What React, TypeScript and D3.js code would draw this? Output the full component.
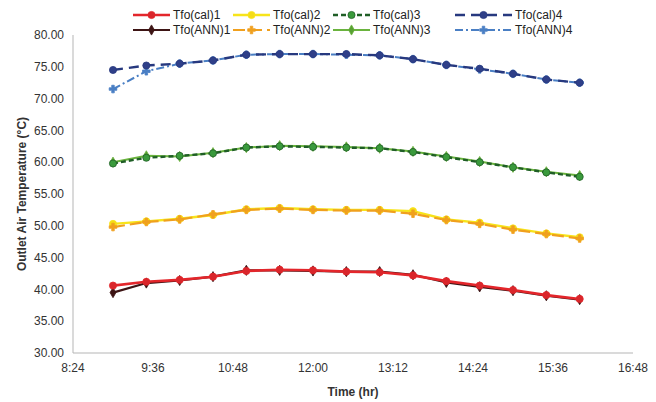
import React from "react";
import * as d3 from "d3";

// times of the readings (every 30 min)
const times = ["9:00", "9:30", "10:00", "10:30", "11:00", "11:30", "12:00", "12:30", "13:00", "13:30", "14:00", "14:30", "15:00", "15:30", "16:00"];

const cal1 = [40.6, 41.2, 41.5, 42.0, 42.9, 43.1, 43.0, 42.8, 42.7, 42.2, 41.3, 40.6, 39.9, 39.1, 38.5];
const ann1 = [39.5, 41.0, 41.4, 42.0, 43.0, 43.0, 42.9, 42.8, 42.8, 42.3, 41.1, 40.4, 39.8, 39.0, 38.4];
const cal2 = [50.3, 50.7, 51.1, 51.7, 52.6, 52.8, 52.6, 52.5, 52.5, 52.3, 51.0, 50.5, 49.6, 48.8, 48.2];
const ann2 = [49.8, 50.6, 51.0, 51.8, 52.5, 52.7, 52.5, 52.4, 52.4, 51.9, 50.9, 50.3, 49.4, 48.7, 48.0];
const cal3 = [59.8, 60.7, 61.0, 61.4, 62.3, 62.5, 62.4, 62.3, 62.2, 61.6, 60.8, 60.0, 59.2, 58.4, 57.7];
const ann3 = [60.0, 61.0, 60.9, 61.5, 62.3, 62.6, 62.5, 62.4, 62.2, 61.7, 60.9, 60.1, 59.2, 58.5, 57.9];
const cal4 = [74.5, 75.2, 75.5, 76.0, 76.9, 77.0, 77.0, 77.0, 76.8, 76.2, 75.3, 74.7, 73.9, 73.0, 72.5];
const ann4 = [71.5, 74.3, 75.5, 76.0, 76.9, 77.0, 77.0, 76.9, 76.8, 76.2, 75.3, 74.6, 73.9, 73.0, 72.5];

const xTickLabels = ["8:24", "9:36", "10:48", "12:00", "13:12", "14:24", "15:36", "16:48"];
const yTicks = [30, 35, 40, 45, 50, 55, 60, 65, 70, 75, 80];

type Series = {
  name: string;
  values: number[];
  line: string;
  marker: string;
  dash: string;
  width: number;
  symbol: d3.SymbolType;
  size: number;
};

const series: Series[] = [
  { name: "Tfo(cal)1", values: cal1, line: "#e3262b", marker: "#d9262b", dash: "", width: 2.6, symbol: d3.symbolCircle, size: 40 },
  { name: "Tfo(cal)2", values: cal2, line: "#f7e41a", marker: "#f5dc17", dash: "", width: 2.4, symbol: d3.symbolCircle, size: 40 },
  { name: "Tfo(cal)3", values: cal3, line: "#1f5e26", marker: "#3a9a3c", dash: "5,3", width: 2.4, symbol: d3.symbolCircle, size: 40 },
  { name: "Tfo(cal)4", values: cal4, line: "#27397f", marker: "#2f3f88", dash: "10,6", width: 2.4, symbol: d3.symbolCircle, size: 40 },
  { name: "Tfo(ANN)1", values: ann1, line: "#3d1414", marker: "#3d1414", dash: "", width: 2.2, symbol: d3.symbolDiamond, size: 30 },
  { name: "Tfo(ANN)2", values: ann2, line: "#f0a01e", marker: "#f0a01e", dash: "12,5", width: 2.2, symbol: d3.symbolCross, size: 32 },
  { name: "Tfo(ANN)3", values: ann3, line: "#6ab33e", marker: "#58a033", dash: "", width: 2.0, symbol: d3.symbolDiamond, size: 30 },
  { name: "Tfo(ANN)4", values: ann4, line: "#4a7fc4", marker: "#4a7fc4", dash: "8,3,2,3", width: 2.0, symbol: d3.symbolCross, size: 32 },
];

// drawing order (back to front)
const drawOrder = ["Tfo(ANN)1", "Tfo(cal)1", "Tfo(cal)2", "Tfo(ANN)2", "Tfo(ANN)3", "Tfo(cal)3", "Tfo(ANN)4", "Tfo(cal)4"];

const toMin = (t: string) => {
  const [h, m] = t.split(":").map(Number);
  return h * 60 + m;
};

const width = 656;
const height = 402;
const margin = { left: 73, right: 23, top: 35, bottom: 49 };
const font = "'Liberation Sans', Arial, sans-serif";

export default function App() {
  const x = d3
    .scaleLinear()
    .domain([toMin(xTickLabels[0]), toMin(xTickLabels[xTickLabels.length - 1])])
    .range([margin.left, width - margin.right]);
  const y = d3.scaleLinear().domain([30, 80]).range([height - margin.bottom, margin.top]);

  const line = d3
    .line<number>()
    .x((_, i) => x(toMin(times[i])))
    .y((d) => y(d));

  const ordered = drawOrder.map((n) => series.find((s) => s.name === n)!);

  // legend layout: 4 columns x 2 rows
  const legendCols = [133, 233, 333, 455];
  const legendLineLen = [37, 37, 37, 57];
  const legendRows = [15, 30];

  return (
    <svg width={width} height={height} style={{ position: "absolute", left: 0, top: 0, background: "#fff" }}>
      {/* axes */}
      <line x1={margin.left} x2={margin.left} y1={margin.top} y2={y(30)} stroke="#b5b5b5" strokeWidth={1} />
      <line x1={margin.left} x2={width - margin.right} y1={y(30)} y2={y(30)} stroke="#b5b5b5" strokeWidth={1} />

      {yTicks.map((t) => (
        <text key={t} x={64} y={y(t)} dy="0.35em" textAnchor="end" fontFamily={font} fontSize={12} fill="#333">
          {t.toFixed(2)}
        </text>
      ))}
      {xTickLabels.map((t) => (
        <text key={t} x={x(toMin(t))} y={372} textAnchor="middle" fontFamily={font} fontSize={12} fill="#333">
          {t}
        </text>
      ))}

      <text
        transform={`translate(22,${(margin.top + y(30)) / 2}) rotate(-90)`}
        textAnchor="middle"
        dy="0.35em"
        fontFamily={font}
        fontSize={12}
        fontWeight="bold"
        fill="#333"
      >
        Outlet Air Temperature (°C)
      </text>
      <text x={(margin.left + width - margin.right) / 2} y={396} textAnchor="middle" fontFamily={font} fontSize={12} fontWeight="bold" fill="#333">
        Time (hr)
      </text>

      {/* series */}
      {ordered.map((s) => (
        <g key={s.name}>
          <path d={line(s.values) ?? ""} fill="none" stroke={s.line} strokeWidth={s.width} strokeDasharray={s.dash} />
          {s.values.map((v, i) => (
            <path
              key={i}
              d={d3.symbol(s.symbol, s.size)() ?? ""}
              transform={`translate(${x(toMin(times[i]))},${y(v)})`}
              fill={s.marker}
              stroke={s.line}
              strokeWidth={0.8}
            />
          ))}
        </g>
      ))}

      {/* legend */}
      {series.map((s, i) => {
        const col = i % 4;
        const row = Math.floor(i / 4);
        const lx = legendCols[col];
        const ly = legendRows[row];
        const len = legendLineLen[col];
        return (
          <g key={s.name}>
            <line x1={lx} x2={lx + len} y1={ly} y2={ly} stroke={s.line} strokeWidth={s.width} strokeDasharray={s.dash} />
            <path
              d={d3.symbol(s.symbol, s.size)() ?? ""}
              transform={`translate(${lx + len / 2},${ly})`}
              fill={s.marker}
              stroke={s.line}
              strokeWidth={0.8}
            />
            <text x={lx + len + 3} y={ly} dy="0.35em" fontFamily={font} fontSize={12} fill="#222">
              {s.name}
            </text>
          </g>
        );
      })}
    </svg>
  );
}
